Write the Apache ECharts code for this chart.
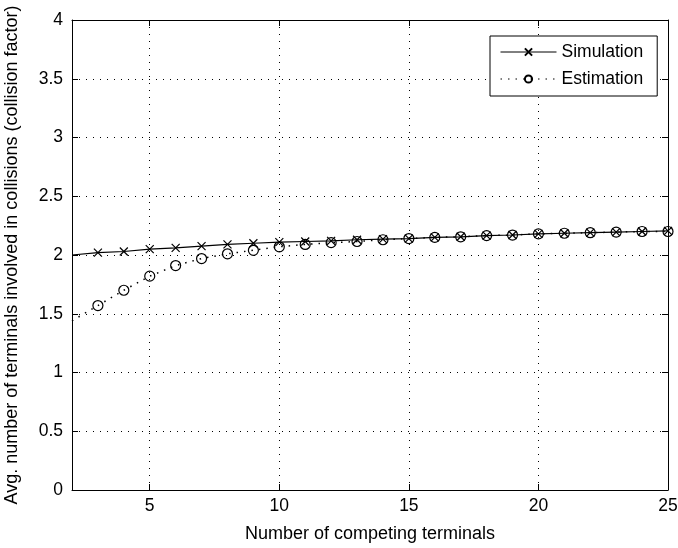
<!DOCTYPE html>
<html>
<head>
<meta charset="utf-8">
<script src="https://cdn.jsdelivr.net/npm/echarts@6/dist/echarts.min.js"></script>
<style>
  html, body { margin: 0; padding: 0; background: #fff; }
  #chartData { width: 678px; height: 548px; }
</style>
</head>
<body>
<div id="chartData"></div>
<script>
// 数据
var terminals = [2, 3, 4, 5, 6, 7, 8, 9, 10, 11, 12, 13, 14, 15, 16, 17, 18, 19, 20, 21, 22, 23, 24, 25];
var simulation = [2.00, 2.02, 2.03, 2.05, 2.06, 2.075, 2.09, 2.10, 2.11, 2.115, 2.12, 2.13,
                  2.135, 2.14, 2.15, 2.155, 2.165, 2.17, 2.18, 2.185, 2.19, 2.195, 2.20, 2.205];
var estimation = [1.44, 1.57, 1.70, 1.82, 1.91, 1.97, 2.01, 2.04, 2.07, 2.09, 2.105, 2.115,
                  2.13, 2.14, 2.15, 2.155, 2.165, 2.17, 2.18, 2.185, 2.19, 2.195, 2.20, 2.20];
var xTicks = [5, 10, 15, 20, 25];
var legendNames = ['Simulation', 'Estimation'];

var font = '"Liberation Sans", Arial, Helvetica, sans-serif';

// 第一个点不画标记
var toPoints = function(values) {
    return terminals.map(function(x, i) {
        if (i === 0) {
            return { value: [x, values[i]], symbol: 'none' };
        }
        return [x, values[i]];
    });
};

var gridLine = { show: true, lineStyle: { color: '#000', type: [1, 6], width: 1 } };

var myChart = echarts.init(document.getElementById('chartData'));

var option = {
    animation: false,
    backgroundColor: '#fff',
    textStyle: { fontFamily: font, color: '#000' },
    grid: { left: 72, right: 10, top: 20, bottom: 58, show: false, outerBoundsMode: 'none', containLabel: false },
    legend: {
        data: legendNames,
        orient: 'vertical',
        left: 490,
        top: 36,
        padding: [7, 14, 8, 10],
        itemGap: 9,
        itemWidth: 56,
        itemHeight: 9,
        backgroundColor: '#fff',
        borderColor: '#000',
        borderWidth: 1,
        borderRadius: 0,
        lineStyle: { width: 1 },
        textStyle: { fontSize: 17.5, color: '#000', fontFamily: font }
    },
    xAxis: [{
        type: 'value',
        min: 2,
        max: 25,
        name: 'Number of competing terminals',
        nameLocation: 'middle',
        nameGap: 35,
        nameTextStyle: { fontSize: 18, color: '#000', fontFamily: font },
        axisLine: { show: true, lineStyle: { color: '#000', width: 1 } },
        axisTick: { show: true, inside: true, length: 6, customValues: xTicks, lineStyle: { color: '#000' } },
        axisLabel: { show: true, margin: 7, fontSize: 17.5, color: '#000', fontFamily: font, customValues: xTicks },
        splitLine: gridLine
    }, {
        type: 'value',
        position: 'top',
        min: 2,
        max: 25,
        axisLine: { show: true, onZero: false, lineStyle: { color: '#000', width: 1 } },
        axisTick: { show: true, inside: true, length: 6, customValues: xTicks, lineStyle: { color: '#000' } },
        axisLabel: { show: false },
        splitLine: { show: false }
    }],
    yAxis: [{
        type: 'value',
        min: 0,
        max: 4,
        interval: 0.5,
        name: 'Avg. number of terminals involved in collisions (collision factor)',
        nameLocation: 'middle',
        nameGap: 51,
        nameTextStyle: { fontSize: 18, color: '#000', fontFamily: font },
        axisLine: { show: true, lineStyle: { color: '#000', width: 1 } },
        axisTick: { show: true, inside: true, length: 6, lineStyle: { color: '#000' } },
        axisLabel: { margin: 9, fontSize: 17.5, color: '#000', fontFamily: font },
        splitLine: gridLine
    }, {
        type: 'value',
        position: 'right',
        min: 0,
        max: 4,
        interval: 0.5,
        axisLine: { show: true, onZero: false, lineStyle: { color: '#000', width: 1 } },
        axisTick: { show: true, inside: true, length: 6, lineStyle: { color: '#000' } },
        axisLabel: { show: false },
        splitLine: { show: false }
    }],
    series: [{
        name: legendNames[0],
        type: 'line',
        data: toPoints(simulation),
        symbol: 'path://M0,0L10,10M10,0L0,10',
        symbolSize: 8,
        showAllSymbol: true,
        itemStyle: { color: 'rgba(0,0,0,0)', borderColor: '#000', borderWidth: 1.2 },
        lineStyle: { color: '#000', width: 1.2, type: 'solid' },
        z: 3
    }, {
        name: legendNames[1],
        type: 'line',
        data: toPoints(estimation),
        symbol: 'circle',
        symbolSize: 10,
        showAllSymbol: true,
        itemStyle: { color: 'rgba(0,0,0,0)', borderColor: '#000', borderWidth: 1.2 },
        lineStyle: { color: '#000', width: 1.5, type: [1.5, 6] },
        z: 2
    }]
};

myChart.setOption(option);
</script>
</body>
</html>
